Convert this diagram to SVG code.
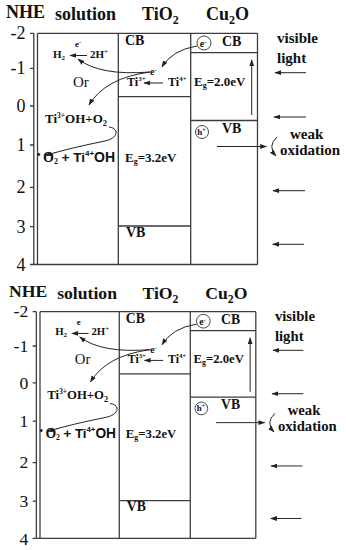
<svg xmlns="http://www.w3.org/2000/svg" width="346" height="550" viewBox="0 0 346 550">
<defs>
<style>
.ln{stroke:#3c3c3c;stroke-width:1.3;fill:none}
.ar{stroke:#222;stroke-width:1;fill:none;marker-end:url(#ah)}
.t{font-family:"Liberation Serif",serif;font-weight:bold;fill:#111}
.n{font-family:"Liberation Serif",serif;font-weight:normal;fill:#111}
.s{font-family:"Liberation Sans",sans-serif;font-weight:bold;fill:#111}
.ax{font-family:"Liberation Serif",serif;font-size:18px;fill:#111;text-anchor:end}
.c{fill:none;stroke:#333;stroke-width:0.9}
</style>
<marker id="ah" viewBox="0 0 10 10" refX="9" refY="5" markerWidth="7" markerHeight="7" markerUnits="userSpaceOnUse" orient="auto"><path d="M0,1.5 L10,5 L0,8.5 z" fill="#222"/></marker>
</defs>
<rect width="346" height="550" fill="#fff"/>

<g id="panel-top">
<g id="axis">
<path class="ln" d="M33.8,33.3 V264.5 M30,33.3 H33.8 M30,68.3 H33.8 M30,106 H33.8 M30,145 H33.8 M30,187.3 H33.8 M30,226.7 H33.8 M30,264.5 H33.8"/>
<text class="t" x="6" y="18" font-size="18">NHE</text>
<text class="ax" x="25.5" y="39">-2</text>
<text class="ax" x="25.5" y="74">-1</text>
<text class="ax" x="25.5" y="112">0</text>
<text class="ax" x="25.5" y="151">1</text>
<text class="ax" x="25.5" y="193">2</text>
<text class="ax" x="25.5" y="233">3</text>
<text class="ax" x="25.5" y="271">4</text>
</g>
<g id="solution">
<path class="ln" d="M37.5,33.3 V264.5 M33.8,264.5 H257.5 M37.5,33.3 H257.5"/>
<text class="t" x="55" y="20" font-size="18">solution</text>
<text class="t" x="53" y="57.5" font-size="11">H<tspan font-size="7" dy="2">2</tspan></text>
<text class="t" x="75" y="47" font-size="9">e<tspan font-size="6" dy="-3">-</tspan></text>
<text class="t" x="90" y="57.5" font-size="11">2H<tspan font-size="7" dy="-4">+</tspan></text>
<text class="n" x="73" y="87" font-size="15">Or</text>
<text class="t" x="45" y="122.7" font-size="13">Ti<tspan font-size="7.5" dy="-5">3+</tspan><tspan dy="5">OH+O</tspan><tspan font-size="8.5" dy="3">2</tspan></text>
<text class="t" x="37" y="158" font-size="10">•</text>
<text class="t" x="43" y="162" font-size="14">O<tspan font-size="8" dy="2">2</tspan><tspan font-size="8" dx="-4" dy="-9">-</tspan><tspan class="s" font-size="13.5" dx="5" dy="7">+ Ti</tspan><tspan class="s" font-size="8" dy="-6">4+</tspan><tspan class="s" font-size="14" dy="6">OH</tspan></text>
</g>
<g id="tio2">
<path class="ln" d="M118.3,33.3 V264.5 M118.3,96.7 H190.7 M118.3,226 H190.7"/>
<text class="t" x="142" y="20" font-size="18">TiO<tspan font-size="12" dy="4">2</tspan></text>
<text class="t" x="125" y="45" font-size="14">CB</text>
<text class="t" x="150" y="75" font-size="10">e<tspan font-size="6" dy="-3">-</tspan></text>
<text class="t" x="127" y="85.5" font-size="12">Ti<tspan font-size="7" dy="-5">3+</tspan></text>
<text class="t" x="168" y="85.5" font-size="12">Ti<tspan font-size="7" dy="-5">4+</tspan></text>
<text class="t" x="125" y="162" font-size="13">E<tspan font-size="8" dy="2">g</tspan><tspan dy="-2">=3.2eV</tspan></text>
<text class="t" x="126" y="237" font-size="14">VB</text>
</g>
<g id="cu2o">
<path class="ln" d="M190.7,33.3 V264.5 M257.5,33.3 V264.5 M190.7,52.7 H257.5 M190.7,120.5 H257.5"/>
<text class="t" x="206" y="20" font-size="18">Cu<tspan font-size="12" dy="4">2</tspan><tspan dy="-4">O</tspan></text>
<circle class="c" cx="204" cy="43" r="7"/>
<text class="t" x="203" y="46.5" font-size="10" text-anchor="middle">e<tspan font-size="6" dy="-3">-</tspan></text>
<text class="t" x="222" y="46" font-size="14">CB</text>
<text class="t" x="194" y="86" font-size="13">E<tspan font-size="8" dy="2">g</tspan><tspan dy="-2">=2.0eV</tspan></text>
<circle class="c" cx="202" cy="132" r="6.5"/>
<text class="t" x="201.5" y="135" font-size="9" text-anchor="middle">h<tspan font-size="6" dy="-3">+</tspan></text>
<text class="t" x="222" y="133" font-size="14">VB</text>
</g>
<g id="light">
<text class="t" x="277" y="43" font-size="15">visible</text>
<text class="t" x="277" y="63" font-size="15">light</text>
<text class="t" x="290" y="139" font-size="15">weak</text>
<text class="t" x="280" y="155" font-size="15">oxidation</text>
</g>
<g id="connectors">
<path class="ar" d="M306,72.7 H275"/>
<path class="ar" d="M306,117 H274"/>
<path class="ar" d="M217,146.5 H266.5"/>
<path class="ar" d="M305,190.7 H273"/>
<path class="ar" d="M304,244.3 H272.7"/>
<path class="ar" d="M277,137 Q267,146 276,156"/>
<path class="ar" d="M251.7,115 V60"/>
<path class="ar" d="M163,83 H144"/>
<path class="ar" d="M87,55.5 H70"/>
<path class="ar" d="M150,72 Q100,76 78,59"/>
<path class="ar" d="M150,72 Q105,78 89,105"/>
<path class="ar" d="M197,46 Q172,50 162,67"/>
<path class="ar" d="M109,127 C119,128 119,138 105,141 Q70,148 45,155.5"/>
</g>
</g>

<g id="panel-bottom" transform="matrix(0.981 0 0 0.98 3.21 279.07)">
<g id="axis-b">
<path class="ln" d="M33.8,33.3 V264.5 M30,33.3 H33.8 M30,68.3 H33.8 M30,106 H33.8 M30,145 H33.8 M30,187.3 H33.8 M30,226.7 H33.8 M30,264.5 H33.8"/>
<text class="t" x="6" y="18" font-size="18">NHE</text>
<text class="ax" x="25.5" y="39">-2</text>
<text class="ax" x="25.5" y="74">-1</text>
<text class="ax" x="25.5" y="112">0</text>
<text class="ax" x="25.5" y="151">1</text>
<text class="ax" x="25.5" y="193">2</text>
<text class="ax" x="25.5" y="233">3</text>
<text class="ax" x="25.5" y="271">4</text>
</g>
<g id="solution-b">
<path class="ln" d="M37.5,33.3 V264.5 M33.8,264.5 H257.5 M37.5,33.3 H257.5"/>
<text class="t" x="55" y="20" font-size="18">solution</text>
<text class="t" x="53" y="57.5" font-size="11">H<tspan font-size="7" dy="2">2</tspan></text>
<text class="t" x="75" y="47" font-size="9">e</text>
<text class="t" x="90" y="57.5" font-size="11">2H<tspan font-size="7" dy="-4">+</tspan></text>
<text class="n" x="73" y="87" font-size="15">Or</text>
<text class="t" x="45" y="122.7" font-size="13">Ti<tspan font-size="7.5" dy="-5">3+</tspan><tspan dy="5">OH+O</tspan><tspan font-size="8.5" dy="3">2</tspan></text>
<text class="t" x="37" y="158" font-size="10">•</text>
<text class="t" x="43" y="162" font-size="14">O<tspan font-size="8" dy="2">2</tspan><tspan font-size="8" dx="-4" dy="-9">-</tspan><tspan class="s" font-size="13.5" dx="5" dy="7">+ Ti</tspan><tspan class="s" font-size="8" dy="-6">4+</tspan><tspan class="s" font-size="14" dy="6">OH</tspan></text>
</g>
<g id="tio2-b">
<path class="ln" d="M118.3,33.3 V264.5 M118.3,96.7 H190.7 M118.3,226 H190.7"/>
<text class="t" x="142" y="20" font-size="18">TiO<tspan font-size="12" dy="4">2</tspan></text>
<text class="t" x="125" y="45" font-size="14">CB</text>
<text class="t" x="150" y="75" font-size="10">e<tspan font-size="6" dy="-3">-</tspan></text>
<text class="t" x="127" y="85.5" font-size="12">Ti<tspan font-size="7" dy="-5">3+</tspan></text>
<text class="t" x="168" y="85.5" font-size="12">Ti<tspan font-size="7" dy="-5">4+</tspan></text>
<text class="t" x="125" y="162" font-size="13">E<tspan font-size="8" dy="2">g</tspan><tspan dy="-2">=3.2eV</tspan></text>
<text class="t" x="126" y="237" font-size="14">VB</text>
</g>
<g id="cu2o-b">
<path class="ln" d="M190.7,33.3 V264.5 M257.5,33.3 V264.5 M190.7,52.7 H257.5 M190.7,120.5 H257.5"/>
<text class="t" x="206" y="20" font-size="18">Cu<tspan font-size="12" dy="4">2</tspan><tspan dy="-4">O</tspan></text>
<circle class="c" cx="204" cy="43" r="7"/>
<text class="t" x="203" y="46.5" font-size="10" text-anchor="middle">e<tspan font-size="6" dy="-3">-</tspan></text>
<text class="t" x="222" y="46" font-size="14">CB</text>
<text class="t" x="194" y="86" font-size="13">E<tspan font-size="8" dy="2">g</tspan><tspan dy="-2">=2.0eV</tspan></text>
<circle class="c" cx="202" cy="132" r="6.5"/>
<text class="t" x="201.5" y="135" font-size="9" text-anchor="middle">h<tspan font-size="6" dy="-3">+</tspan></text>
<text class="t" x="222" y="133" font-size="14">VB</text>
</g>
<g id="light-b">
<text class="t" x="277" y="43" font-size="15">visible</text>
<text class="t" x="277" y="63" font-size="15">light</text>
<text class="t" x="290" y="139" font-size="15">weak</text>
<text class="t" x="280" y="155" font-size="15">oxidation</text>
</g>
<g id="connectors-b">
<path class="ar" d="M306,72.7 H275"/>
<path class="ar" d="M306,117 H274"/>
<path class="ar" d="M217,146.5 H266.5"/>
<path class="ar" d="M305,190.7 H273"/>
<path class="ar" d="M304,244.3 H272.7"/>
<path class="ar" d="M277,137 Q267,146 276,156"/>
<path class="ar" d="M251.7,115 V60"/>
<path class="ar" d="M163,83 H144"/>
<path class="ar" d="M87,55.5 H70"/>
<path class="ar" d="M150,72 Q100,76 78,59"/>
<path class="ar" d="M150,72 Q105,78 89,105"/>
<path class="ar" d="M197,46 Q172,50 162,67"/>
<path class="ar" d="M109,127 C119,128 119,138 105,141 Q70,148 45,155.5"/>
</g>
</g>
</svg>
